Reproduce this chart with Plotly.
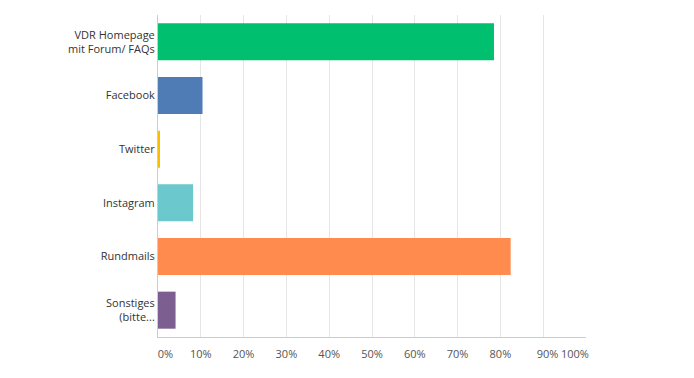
import plotly.graph_objects as go

categories = ["VDR Homepage<br>mit Forum/ FAQs", "Facebook", "Twitter", "Instagram", "Rundmails", "Sonstiges<br>(bitte..."]
values = [0.785, 0.104, 0.003, 0.082, 0.824, 0.041]
colors = ["#00BF6F", "#507CB6", "#F9BE00", "#6BC8CD", "#FF8B4F", "#7D5E90"]
tick_labels = ["0%", "10%", "20%", "30%", "40%", "50%", "60%", "70%", "80%", "90%", "100%"]
grid_vals = [0, 0.1, 0.2, 0.3, 0.4, 0.5, 0.6, 0.7, 0.8, 0.9, 1.0]
label_vals = [0.0175, 0.1, 0.2, 0.3, 0.4, 0.5, 0.6, 0.7, 0.8, 0.91, 0.974]

fig = go.Figure()
fig.add_trace(go.Bar(
    y=categories, x=values, orientation="h",
    marker=dict(color=colors, line=dict(width=0)),
    hoverinfo="x+y",
))
# invisible trace for label axis
fig.add_trace(go.Scatter(x=[0], y=[categories[0]], xaxis="x2", mode="markers",
                         marker=dict(opacity=0), showlegend=False, hoverinfo="skip"))

fig.update_layout(
    width=694, height=378,
    margin=dict(l=149.5, r=116, t=7, b=49),
    paper_bgcolor="white", plot_bgcolor="white",
    showlegend=False,
    bargap=0.31,
    font=dict(family="Open Sans, Roboto, sans-serif", size=11, color="#333333"),
    xaxis=dict(range=[0, 1], tickvals=grid_vals, showticklabels=False,
               showgrid=True, gridcolor="#E6E6E6", gridwidth=1,
               showline=True, linecolor="#CCCCCC", linewidth=1,
               zeroline=False, fixedrange=True, automargin=False),
    xaxis2=dict(range=[0, 1], overlaying="x", side="bottom", anchor="y",
                tickvals=label_vals, ticktext=tick_labels,
                showgrid=False, showline=False, zeroline=False,
                ticklabelstandoff=9, automargin=False,
                tickfont=dict(size=11, color="#555555")),
    yaxis=dict(autorange="reversed", showline=True, linecolor="#CCCCCC", linewidth=1,
               showgrid=False, ticks="", ticklabelstandoff=0, automargin=False,
               tickfont=dict(size=11, color="#333333")),
)

fig.write_html("out.html")
